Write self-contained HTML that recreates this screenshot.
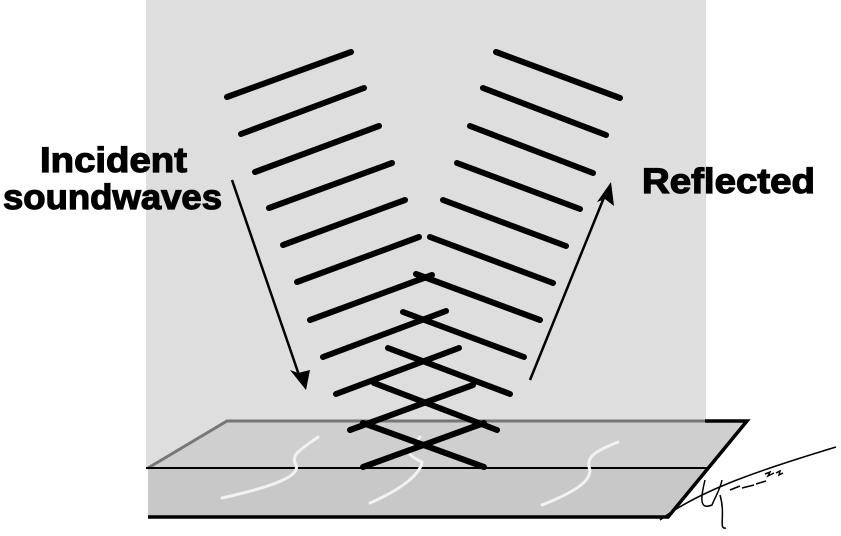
<!DOCTYPE html>
<html><head><style>html,body{margin:0;padding:0;background:#fff;}svg{display:block}</style></head>
<body>
<svg width="841" height="536" viewBox="0 0 841 536" xmlns="http://www.w3.org/2000/svg">
<rect x="146" y="0" width="560" height="470" fill="#dedede"/>
<polygon points="227,421 747,421 708,468 148,468" fill="#cfcfcf"/>
<polygon points="148,468 708,468 668,517 148,517" fill="#c8c8c8"/>
<polyline points="148,468 227,421 747,421" fill="none" stroke="#777" stroke-width="3"/>
<polyline points="705,421 747,421 668,517 148,517" fill="none" stroke="#000" stroke-width="3.5"/>
<line x1="146" y1="468" x2="708" y2="468" stroke="#000" stroke-width="2"/>
<g stroke="#f2f2f2" stroke-width="3" fill="none" stroke-linecap="round">
<path d="M318,437 C300,450 290,455 296,465 C300,475 280,485 222,498"/>
<path d="M420,437 C410,448 400,452 422,462 C420,475 400,490 370,503"/>
<path d="M618,442 C600,450 584,455 590,470 C590,480 580,490 542,505"/>
</g>
<g stroke="#000" stroke-width="6" stroke-linecap="round" fill="none">
<line x1="227" y1="97" x2="351" y2="52"/>
<line x1="241" y1="134" x2="364" y2="88"/>
<line x1="255" y1="172" x2="379" y2="126"/>
<line x1="269" y1="208" x2="392" y2="163"/>
<line x1="283" y1="245" x2="405" y2="200"/>
<line x1="297" y1="282" x2="419" y2="237"/>
<line x1="310" y1="320" x2="432" y2="275"/>
<line x1="323" y1="357" x2="446" y2="311"/>
<line x1="336" y1="394" x2="459" y2="348"/>
<line x1="350" y1="430" x2="473" y2="385"/>
<line x1="363" y1="467" x2="484" y2="423"/>
<line x1="496" y1="52" x2="620" y2="98"/>
<line x1="483" y1="88" x2="606" y2="135"/>
<line x1="470" y1="126" x2="593" y2="173"/>
<line x1="457" y1="163" x2="580" y2="209"/>
<line x1="443" y1="200" x2="566" y2="246"/>
<line x1="430" y1="237" x2="553" y2="283"/>
<line x1="416" y1="274" x2="540" y2="320"/>
<line x1="403" y1="312" x2="524" y2="357"/>
<line x1="388" y1="348" x2="510" y2="394"/>
<line x1="374" y1="383" x2="497" y2="430"/>
<line x1="363" y1="423" x2="484" y2="467"/>
</g>
<g stroke="#000" stroke-width="2.5" fill="none">
<line x1="232" y1="180" x2="300" y2="378"/>
<line x1="530" y1="380" x2="605" y2="195"/>
</g>
<polygon points="306,390 290,370 298,373 310,370" fill="#000"/>
<polygon points="611,182 614,206 605,199 597,202" fill="#000"/>
<g stroke="#000" stroke-width="1.5" fill="none">
<path d="M660,520 C700,490 760,470 836,447"/>
<path d="M705,480 C700,500 700,510 712,505 C716,495 720,490 722,480 M720,495 C726,515 718,530 726,528 M730,490 l10,-4 M742,488 l12,-3 M756,484 l10,-3"/>
<path d="M765,474 l5,-2 l-2,4 l6,-3 M776,473 l4,-2 l-1,4 l4,-2"/>
</g>
<g font-family="Liberation Sans, Arial, sans-serif" font-weight="bold" font-size="35" fill="#000" stroke="#000" stroke-width="1.2">
<text x="40" y="172" textLength="147" lengthAdjust="spacingAndGlyphs">Incident</text>
<text x="3" y="209" textLength="219" lengthAdjust="spacingAndGlyphs">soundwaves</text>
<text x="642" y="193" textLength="173" lengthAdjust="spacingAndGlyphs">Reflected</text>
</g>
</svg>
</body></html>
